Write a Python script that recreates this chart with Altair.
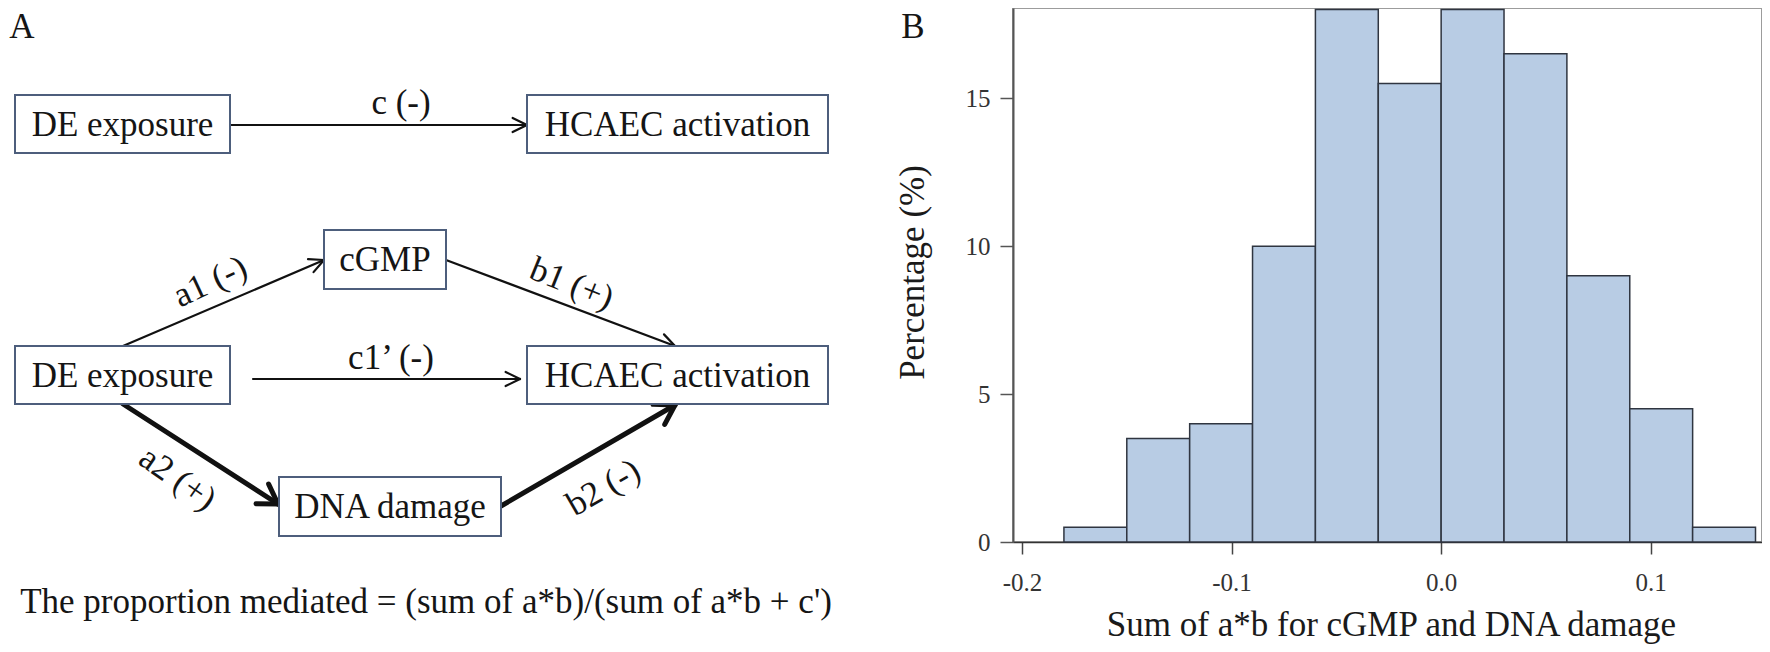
import math
import altair as alt
import pandas as pd

# ---------------- Panel B data (histogram) ----------------
bin_starts = [-0.18, -0.15, -0.12, -0.09, -0.06, -0.03, 0.00, 0.03, 0.06, 0.09, 0.12]
bin_width = 0.03
percentages = [0.5, 3.5, 4.0, 10.0, 18.0, 15.5, 18.0, 16.5, 9.0, 4.5, 0.5]
x_ticks = [-0.2, -0.1, 0.0, 0.1]
y_ticks = [0, 5, 10, 15]
x_title = "Sum of a*b for cGMP and DNA damage"
y_title = "Percentage (%)"

# ---------------- Panel A content (diagram) ----------------
node_ids = ["de_top", "hc_top", "cgmp", "de_mid", "hc_mid", "dna"]
node_labels = ["DE exposure", "HCAEC activation", "cGMP", "DE exposure", "HCAEC activation", "DNA damage"]
edge_ids = ["c", "a1", "b1", "c1", "a2", "b2"]
edge_labels = ["c (-)", "a1 (-)", "b1 (+)", "c1\u2019 (-)", "a2 (+)", "b2 (-)"]
edge_weight = ["thin", "thin", "thin", "thin", "thick", "thick"]
formula = "The proportion mediated = (sum of a*b)/(sum of a*b + c')"
panel_letters = ["A", "B"]

# ---------------- Layout (page pixel coordinates) ----------------
node_box = {  # x1, y1, x2, y2
    "de_top": (15, 95, 230, 153),
    "hc_top": (527, 95, 828, 153),
    "cgmp": (324, 230, 446, 289),
    "de_mid": (15, 346, 230, 404),
    "hc_mid": (527, 346, 828, 404),
    "dna": (279, 477, 501, 536),
}
edge_path = {  # start -> tip
    "c": ((230, 125), (527, 125)),
    "a1": ((123, 346), (324, 260)),
    "b1": ((446, 260), (675, 346)),
    "c1": ((253, 379), (520, 379)),
    "a2": ((123, 404), (278, 504)),
    "b2": ((501, 506), (675, 405)),
}
edge_label_pos = {  # visual centre, angle (deg, clockwise)
    "c": ((401, 102), 0),
    "a1": ((210, 281), -25),
    "b1": ((572, 283), 22),
    "c1": ((391, 357), 0),
    "a2": ((178, 478), 35),
    "b2": ((603, 487), -30),
}
weight_style = {"thin": (2.2, 16, 26), "thick": (5.0, 22, 32)}  # stroke, head length, head half-angle
letter_pos = [(22, 38), (913, 38)]
formula_pos = (426, 613)

FONT = "Liberation Serif"
FS = 35
CAP_HALF = 11.5

# page -> chart range mapping (view origin at page (1013, 8))
VIEW_X0, VIEW_Y0 = 1013, 8
W, H = 749, 534
page_x = alt.Scale(domain=[0, 1770], range=[-VIEW_X0, 1770 - VIEW_X0], nice=False, zero=False)
page_y = alt.Scale(domain=[0, 652], range=[-VIEW_Y0, 652 - VIEW_Y0], nice=False, zero=False)

# ---------- build diagram tables ----------
rules = []
for eid, w in zip(edge_ids, edge_weight):
    (sx, sy), (tx, ty) = edge_path[eid]
    sw, hl, ha = weight_style[w]
    rules.append(dict(x=sx, y=sy, x2=tx, y2=ty, w=sw))
    ang = math.atan2(sy - ty, sx - tx)
    for s in (-1, 1):
        a = ang + s * math.radians(ha)
        rules.append(dict(x=tx, y=ty, x2=tx + hl * math.cos(a), y2=ty + hl * math.sin(a), w=sw))
rules_df = pd.DataFrame(rules)

boxes_df = pd.DataFrame([
    dict(x=node_box[n][0], y=node_box[n][1], x2=node_box[n][2], y2=node_box[n][3]) for n in node_ids
])

texts = []
for n, lab in zip(node_ids, node_labels):
    x1, y1, x2, y2 = node_box[n]
    texts.append(dict(x=(x1 + x2) / 2, y=(y1 + y2) / 2 + CAP_HALF, t=lab, angle=0))
for eid, lab in zip(edge_ids, edge_labels):
    (cx, cy), a = edge_label_pos[eid]
    r = math.radians(a)
    texts.append(dict(x=cx - CAP_HALF * math.sin(r), y=cy + CAP_HALF * math.cos(r), t=lab, angle=a % 360))
for lab, (lx, ly) in zip(panel_letters, letter_pos):
    texts.append(dict(x=lx, y=ly, t=lab, angle=0))
texts.append(dict(x=formula_pos[0], y=formula_pos[1], t=formula, angle=0))
texts_df = pd.DataFrame(texts)

hist_df = pd.DataFrame({
    "start": bin_starts,
    "end": [b + bin_width for b in bin_starts],
    "pct": percentages,
})

# ---------- layers ----------
hist = alt.Chart(hist_df).mark_rect(fill="#b8cce4", stroke="#2f3540", strokeWidth=1.5).encode(
    x=alt.X("start:Q",
            scale=alt.Scale(domain=[-0.2043, 0.1531], nice=False, zero=False),
            axis=alt.Axis(values=x_ticks, tickSize=12, labelPadding=16, labelFlush=False,
                          labelExpr="datum.value < 0 ? '-' + format(-datum.value, '.1f') : format(datum.value, '.1f')",
                          labelFont=FONT, labelFontSize=25, labelColor="#333333",
                          domainColor="#333333", domainWidth=1.5, tickColor="#444444", tickWidth=1.5,
                          grid=False, title=x_title, titleFont=FONT, titleFontSize=FS,
                          titleFontWeight="normal", titleColor="#1a1a1a", titleBaseline="alphabetic",
                          titleY=93, titleX=378)),
    x2="end:Q",
    y=alt.Y("pct:Q",
            scale=alt.Scale(domain=[0, 18.05], nice=False, zero=True),
            axis=alt.Axis(values=y_ticks, tickSize=13, labelPadding=10,
                          labelFont=FONT, labelFontSize=25, labelColor="#333333",
                          domainColor="#555555", domainWidth=2, tickColor="#555555", tickWidth=1.5,
                          grid=False, title=y_title, titleFont=FONT, titleFontSize=FS,
                          titleFontWeight="normal", titleColor="#1a1a1a", titleAngle=270,
                          titleBaseline="alphabetic", titleAlign="center", titleX=-90, titleY=264)),
    y2=alt.datum(0),
)

lines = alt.Chart(rules_df).mark_rule(color="#111111", strokeCap="round").encode(
    x=alt.X("x:Q", scale=page_x, axis=None),
    y=alt.Y("y:Q", scale=page_y, axis=None),
    x2="x2:Q",
    y2="y2:Q",
    strokeWidth=alt.StrokeWidth("w:Q", scale=None),
)

boxes = alt.Chart(boxes_df).mark_rect(fill="white", stroke="#4d5e7c", strokeWidth=2).encode(
    x=alt.X("x:Q", scale=page_x, axis=None),
    y=alt.Y("y:Q", scale=page_y, axis=None),
    x2="x2:Q",
    y2="y2:Q",
)

labels = alt.Chart(texts_df).mark_text(font=FONT, fontSize=FS, baseline="alphabetic",
                                        align="center", color="#151515").encode(
    x=alt.X("x:Q", scale=page_x, axis=None),
    y=alt.Y("y:Q", scale=page_y, axis=None),
    text="t:N",
    angle=alt.Angle("angle:Q", scale=None),
)

chart = alt.layer(hist, lines, boxes, labels).resolve_scale(
    x="independent", y="independent"
).properties(
    width=W, height=H, autosize="none",
    padding={"left": VIEW_X0 - 8, "top": 0, "right": 0, "bottom": 102},
    background="white",
).configure_view(stroke="#9c9c9c", strokeWidth=2)

chart.save("out.html", embed_options={"renderer": "svg", "actions": False})
